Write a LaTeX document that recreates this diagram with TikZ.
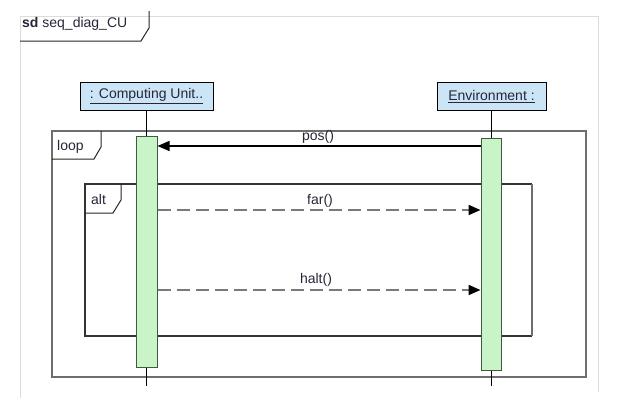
\documentclass[tikz,border=0pt]{standalone}
\usepackage{fontspec}
\setmainfont{Liberation Sans}
\usetikzlibrary{arrows.meta}
\definecolor{headfill}{HTML}{CCE5F6}
\definecolor{actfill}{HTML}{C8F4C8}
\definecolor{actline}{HTML}{3F5A3F}
\definecolor{frameg}{HTML}{6E6E6E}
\definecolor{outerg}{HTML}{DCDCDC}
\definecolor{txt}{HTML}{262638}
\definecolor{dashg}{HTML}{7A7A7A}
\begin{document}
\begin{tikzpicture}[x=1pt,y=-1pt,
  lbl/.style={font=\fontsize{14}{16}\selectfont, text=txt, inner sep=0pt},
  head/.style={lbl, draw=black, line width=1pt, fill=headfill, minimum height=28pt},
  act/.style={draw=actline, line width=1pt, fill=actfill, minimum width=20pt, inner sep=0pt},
  lifeline/.style={black, line width=0.9pt},
  framebox/.style={frameg, line width=1.3pt},
  tabline/.style={black!85, line width=1pt},
  syncmsg/.style={black, line width=1.3pt, -{Triangle[length=12pt,width=10pt]}},
  replymsg/.style={dashg, line width=2pt, dash pattern=on 13pt off 6pt, -{Triangle[length=12pt,width=10pt,fill=black,color=black]}},
]
\useasboundingbox (0,0) rectangle (623,416);
\fill[white] (0,0) rectangle (623,416);

% outer sd frame
\draw[outerg, line width=1pt] (20,398) -- (20,16) -- (598,16) -- (598,392);
\draw[tabline] (149,11) -- (149,28) -- (141,41) -- (20,41);
\node[lbl, anchor=west] (sdlabel) at (22,24) {\textbf{sd} seq\_diag\_CU};

% loop frame
\draw[framebox] (52,131) rectangle (586,377);
\draw[tabline] (101,131) -- (101,147) -- (94,159) -- (52,159);
\node[lbl, anchor=west] (looplabel) at (57,147) {loop};

% alt frame
\draw[black!80, line width=1.1pt] (532,184) -- (85,184) -- (85,336) -- (532,336);
\draw[frameg, line width=1.3pt] (532,184) -- (532,336);
\draw[tabline] (121,184) -- (121,200) -- (113,213) -- (85,213);
\node[lbl, anchor=west] (altlabel) at (91,199) {alt};

% lifeline heads
\node[head, minimum width=133pt] (cu) at (146.5,96) {\underline{: Computing Unit..}};
\node[head, minimum width=109pt] (env) at (491.5,96.5) {\underline{Environment :}};

% lifelines
\coordinate (cuend) at (146.5,386);
\coordinate (envend) at (491.5,386);
\draw[lifeline] (cu.south) -- (cuend);
\draw[lifeline] (env.south) -- (envend);

% activations
\node[act, minimum width=21pt, minimum height=231pt] (cuact) at (146.5,251.5) {};
\node[act, minimum width=20pt, minimum height=232pt] (envact) at (491,254) {};

% messages
\coordinate (m1) at (0,146);
\coordinate (m2) at (0,210);
\coordinate (m3) at (0,290);
\draw[syncmsg] (envact.west |- m1) -- (cuact.east |- m1);
\draw[replymsg] (cuact.east |- m2) -- (envact.west |- m2);
\draw[replymsg] (cuact.east |- m3) -- (envact.west |- m3);

\node[lbl] (poslabel) at (318,137) {pos()};
\node[lbl] (farlabel) at (320,201) {far()};
\node[lbl] (haltlabel) at (316,280) {halt()};
\end{tikzpicture}
\end{document}
